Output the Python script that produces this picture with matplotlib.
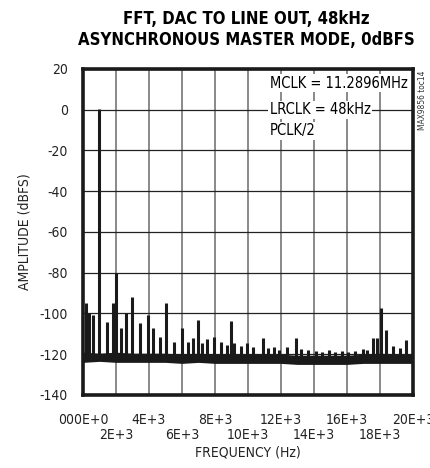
import matplotlib
matplotlib.use('Agg')
import matplotlib.pyplot as plt

# spur frequencies (Hz) and peak levels (dBFS)
spur_freq = [180, 350, 630, 1000, 1430, 1840, 2000, 2280, 2600, 3000,
             3450, 3960, 4220, 4700, 5030, 5540, 5980, 6380, 6700, 6950,
             7190, 7500, 7960, 8350, 8750, 8950, 9170, 9600, 9960, 10300,
             10900, 11200, 11600, 11900, 12400, 12900, 13200, 13650, 14100,
             14500, 14900, 15300, 15700, 16100, 16500, 17000, 17250, 17600,
             17800, 18060, 18400, 18800, 19200, 19600]
spur_level = [-94.7, -100, -100.7, 0.5, -104, -95, -80, -107, -100, -92,
              -104.5, -100.7, -107, -111.7, -94.7, -113.8, -107, -114, -112, -103,
              -114.6, -112.7, -111.4, -114, -115.5, -103.5, -114.6, -116, -114.3, -116.5,
              -112.2, -117, -116.5, -117.7, -116.5, -112.2, -117.4, -118, -118.5,
              -119, -118, -119, -118.5, -119, -118.5, -117.5, -118, -112,
              -112, -97.5, -108, -116, -117, -113]

# noise floor envelope every 1 kHz
floor_freq = [0, 1000, 2000, 3000, 4000, 5000, 6000, 7000, 8000, 9000, 10000,
              11000, 12000, 13000, 14000, 15000, 16000, 17000, 18000, 19000, 20000]
floor_top = [-119, -119.5, -119, -119.5, -119.5, -119.5, -120, -119.5, -120, -120, -120,
             -120, -120, -120.5, -120.5, -120.5, -120.5, -120, -119.5, -120, -120]
floor_bot = [-124, -123.5, -124, -124, -124, -124, -124.5, -124, -124.5, -124.5, -124.5,
             -124.5, -124.5, -125, -125, -125, -125, -124.5, -124.5, -124.5, -124.5]

xticks_major = [0, 4000, 8000, 12000, 16000, 20000]
xlabels_major = ['000E+0', '4E+3', '8E+3', '12E+3', '16E+3', '20E+3']
xticks_minor = [2000, 6000, 10000, 14000, 18000]
xlabels_minor = ['2E+3', '6E+3', '10E+3', '14E+3', '18E+3']
yticks = [20, 0, -20, -40, -60, -80, -100, -120, -140]

plt.rcParams['font.family'] = ['DejaVu Sans']
plt.rcParams['font.stretch'] = 'condensed'

fig = plt.figure(figsize=(4.3, 4.68), dpi=100)
ax = fig.add_axes([0.193, 0.156, 0.767, 0.697])

ax.fill_between(floor_freq, floor_bot, floor_top, color='#1a1a1a', lw=0, zorder=3)
ax.vlines(spur_freq, -122, spur_level, color='#1a1a1a', lw=2.2, zorder=3)

ax.set_xlim(0, 20000)
ax.set_ylim(-140, 20)
ax.set_yticks(yticks)
ax.set_yticklabels([str(v) for v in yticks])
ax.set_xticks(xticks_major)
ax.set_xticklabels(xlabels_major)
ax.set_xticks(xticks_minor, minor=True)
ax.set_xticklabels(xlabels_minor, minor=True)
ax.tick_params(axis='both', which='both', length=0, labelsize=10, colors='#222222')
ax.tick_params(axis='y', pad=11)
ax.tick_params(axis='x', which='major', pad=13)
ax.tick_params(axis='x', which='minor', pad=24)

for x in xticks_major + xticks_minor:
    ax.axvline(x, color='#808080', lw=1.3, zorder=1)
for y in yticks:
    ax.axhline(y, color='#222222', lw=0.9, zorder=1)
for s in ax.spines.values():
    s.set_linewidth(2.6)
    s.set_color('#1a1a1a')

ax.set_xlabel('FREQUENCY (Hz)', fontsize=10, labelpad=2, color='#222222')
ax.set_ylabel('AMPLITUDE (dBFS)', fontsize=10, labelpad=6, color='#222222')

box = dict(facecolor='white', edgecolor='none', pad=1)
ax.text(11330, 13, 'MCLK = 11.2896MHz', fontsize=10.5, va='center', ha='left', bbox=box, zorder=4)
ax.text(11330, 0, 'LRCLK = 48kHz', fontsize=10.5, va='center', ha='left', bbox=box, zorder=4)
ax.text(11330, -10.5, 'PCLK/2', fontsize=10.5, va='center', ha='left', bbox=box, zorder=4)

fig.text(0.572, 0.96, 'FFT, DAC TO LINE OUT, 48kHz', fontsize=12, fontweight='bold',
         ha='center', va='center')
fig.text(0.572, 0.915, 'ASYNCHRONOUS MASTER MODE, 0dBFS', fontsize=12, fontweight='bold',
         ha='center', va='center')
fig.text(0.983, 0.785, 'MAX9856 toc14', fontsize=6, rotation=90, ha='center', va='center',
         color='#333333')

fig.savefig('out.png', dpi=100)
